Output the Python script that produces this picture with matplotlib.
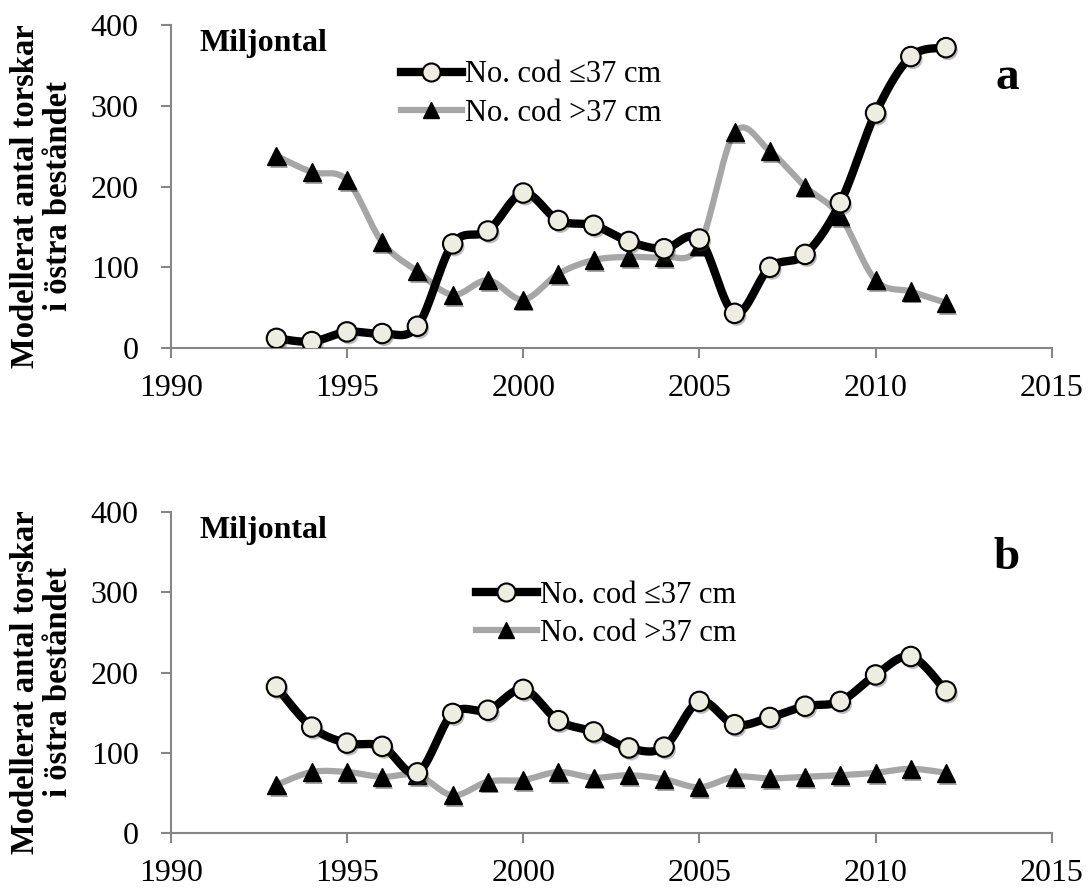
import numpy as np
import matplotlib
matplotlib.use("Agg")
import matplotlib.pyplot as plt
import matplotlib.patheffects as pe

# === Data (millions of cod, eastern stock) ===
years = list(range(1993, 2013))

a_small = [12, 8, 20, 18, 27, 129, 145, 192, 158, 152, 132, 123, 135, 43, 100, 116, 180, 291, 361, 372]
a_large = [238, 218, 208, 131, 95, 66, 84, 60, 92, 109, 113, 113, 127, 267, 244, 200, 163, 84, 70, 56]

b_small = [182, 132, 112, 108, 75, 149, 153, 179, 140, 126, 106, 107, 164, 135, 144, 158, 164, 197, 220, 177]
b_large = [60, 76, 76, 70, 72, 47, 64, 66, 76, 69, 72, 67, 57, 70, 68, 70, 72, 75, 80, 75]

label_small = "No. cod \u226437 cm"
label_large = "No. cod >37 cm"
ylabel = "Modellerat antal torskar\ni \u00f6stra best\u00e5ndet"
unit_text = "Miljontal"

plt.rcParams["font.family"] = ["Liberation Serif", "DejaVu Serif"]

shadow = [pe.SimplePatchShadow(offset=(1.5, -2), alpha=0.35), pe.Normal()]


def smooth(x, y, n=20):
    # Excel-style smoothed line: cubic Bezier with Catmull-Rom control points
    x = np.asarray(x, float)
    y = np.asarray(y, float)
    xs, ys = [], []
    for i in range(len(x) - 1):
        p0 = np.array([x[max(i - 1, 0)], y[max(i - 1, 0)]])
        p1 = np.array([x[i], y[i]])
        p2 = np.array([x[i + 1], y[i + 1]])
        p3 = np.array([x[min(i + 2, len(x) - 1)], y[min(i + 2, len(x) - 1)]])
        c1 = p1 + (p2 - p0) / 6
        c2 = p2 - (p3 - p1) / 6
        t = np.linspace(0, 1, n)[:, None]
        pts = ((1 - t) ** 3) * p1 + 3 * ((1 - t) ** 2) * t * c1 + 3 * (1 - t) * t ** 2 * c2 + t ** 3 * p2
        xs.extend(pts[:, 0])
        ys.extend(pts[:, 1])
    return xs, ys


def panel(ax, small, large, letter, letter_y, leg_anchor):
    gx, gy = smooth(years, large)
    ax.plot(gx, gy, color="#a6a6a6", lw=4.5, solid_capstyle="round", zorder=2)
    ax.plot(years, large, ls="none", marker="^", ms=13, color="black", zorder=3, path_effects=shadow)
    sx, sy = smooth(years, small)
    ax.plot(sx, sy, color="black", lw=6, solid_capstyle="round", zorder=4)
    ax.plot(years, small, ls="none", marker="o", ms=14, mfc="#eeede2", mec="black", mew=1.5, zorder=5,
            path_effects=shadow)

    # legend proxies
    h1, = ax.plot([], [], color="black", lw=6, marker="o", ms=13, mfc="#eeede2", mec="black", mew=1.5)
    h2, = ax.plot([], [], color="#a6a6a6", lw=4.5, marker="^", ms=12, mfc="black", mec="black")
    ax.legend([h1, h2], [label_small, label_large], loc="upper left", bbox_to_anchor=leg_anchor,
              bbox_transform=ax.figure.transFigure, frameon=False, fontsize=22, numpoints=1,
              handlelength=2.0, handletextpad=0.1, borderpad=0, borderaxespad=0, labelspacing=0.3)

    ax.set_xlim(1990, 2015)
    ax.set_ylim(0, 400)
    ax.set_xticks([1990, 1995, 2000, 2005, 2010, 2015])
    ax.set_yticks([0, 100, 200, 300, 400])
    for s in ["top", "right"]:
        ax.spines[s].set_visible(False)
    for s in ["left", "bottom"]:
        ax.spines[s].set_color("#868686")
        ax.spines[s].set_linewidth(1.5)
    ax.tick_params(axis="both", colors="#868686", labelcolor="black", labelsize=23,
                   length=7, width=1.5, direction="out")
    ax.tick_params(axis="y", pad=16)
    ax.tick_params(axis="x", pad=12)
    ax.set_ylabel(ylabel, fontsize=23.5, fontweight="bold", linespacing=1.1)
    ax.yaxis.label.set_verticalalignment("center")
    ax.yaxis.set_label_coords(-0.146, 0.47)
    ax.text(0.033, 0.944, unit_text, transform=ax.transAxes, fontsize=23, fontweight="bold", va="center")
    ax.text(0.949, letter_y, letter, transform=ax.transAxes, fontsize=34, fontweight="bold",
            ha="center", va="center")


fig = plt.figure(figsize=(10.89, 8.89), dpi=100)
ax1 = fig.add_axes([0.1568, 0.6085, 0.809, 0.3633])
ax2 = fig.add_axes([0.1568, 0.063, 0.809, 0.361])

panel(ax1, a_small, a_large, "a", 0.836, (0.368, 0.932))
panel(ax2, b_small, b_large, "b", 0.857, (0.437, 0.347))

fig.savefig("out.png", dpi=100)
